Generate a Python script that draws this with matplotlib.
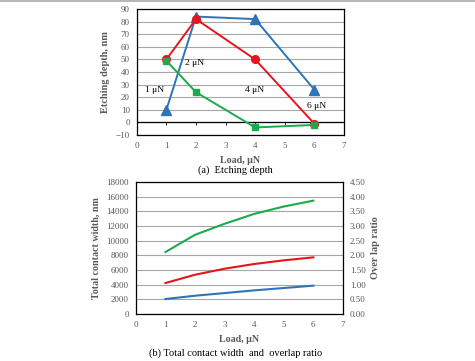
import matplotlib.pyplot as plt

plt.rcParams['font.family'] = ['Liberation Serif', 'DejaVu Serif']

# (a) etching depth
load_a = [1, 2, 4, 6]
depth_blue = [10, 84, 82, 26]
depth_red = [50, 82, 50, -1]
depth_green = [49, 24, -4, -2]
load_labels = ["1 \u03bcN", "2 \u03bcN", "4 \u03bcN", "6 \u03bcN"]
label_x = [0.6, 1.95, 3.97, 6.06]
label_y = [26, 47, 26, 13]

# (b) total contact width
load_b = [1, 2, 3, 4, 5, 6]
width_green = [8450, 10800, 12300, 13650, 14650, 15450]
width_red = [4230, 5360, 6180, 6820, 7320, 7730]
width_blue = [2050, 2500, 2860, 3230, 3550, 3870]

BLUE = '#2e75b6'
RED = '#e8141b'
GREEN = '#1daa4e'
GREYTXT = '#595959'
GRID = '#a6a6a6'

fig = plt.figure(figsize=(4.75, 3.61), dpi=100)
fig.add_artist(plt.Line2D([0, 1], [0.998, 0.998], color='#aaaaaa', lw=1.2))

# ---- top panel
ax1 = fig.add_axes([0.288, 0.626, 0.436, 0.349])
ax1.plot(load_a, depth_blue, color=BLUE, lw=1.4, marker='^', ms=6.5, zorder=3)
ax1.plot(load_a, depth_red, color=RED, lw=1.4, marker='o', ms=5.5, zorder=4)
ax1.plot(load_a, depth_green, color=GREEN, lw=1.4, marker='s', ms=5, zorder=5)
for tx, ty, s in zip(label_x, label_y, load_labels):
    ax1.text(tx, ty, s, fontsize=6.8, ha='center', va='center', zorder=6)
ax1.set_xlim(0, 7)
ax1.set_ylim(-10, 90)
ax1.set_yticks(range(-10, 91, 10))
ax1.set_xticks(range(0, 8))
ax1.yaxis.grid(True, color=GRID, lw=0.8)
ax1.set_axisbelow(True)
ax1.axhline(0, color='black', lw=0.9, zorder=2)
ax1.tick_params(length=0, labelsize=6.5, labelcolor=GREYTXT, pad=5)
sec = ax1.secondary_xaxis(0.1)
sec.set_xticks(range(0, 8))
sec.tick_params(length=2.5, direction='out', labelbottom=False, width=0.6)
sec.spines['bottom'].set_visible(False)
for sp in ax1.spines.values():
    sp.set_color('black')
    sp.set_linewidth(0.9)
ax1.set_xlabel("Load, \u03bcN", fontsize=7.2, fontweight='bold', color=GREYTXT, labelpad=4)
ax1.set_ylabel("Etching depth, nm", fontsize=7.5, fontweight='bold', color=GREYTXT, labelpad=4)
fig.text(0.495, 0.528, "(a)  Etching depth", ha='center', va='center', fontsize=7.5)

# ---- bottom panel
ax2 = fig.add_axes([0.286, 0.130, 0.436, 0.366])
ax2.plot(load_b, width_green, color=GREEN, lw=1.5)
ax2.plot(load_b, width_red, color=RED, lw=1.5)
ax2.plot(load_b, width_blue, color=BLUE, lw=1.5)
ax2.set_xlim(0, 7)
ax2.set_ylim(0, 18000)
ax2.set_yticks(range(0, 18001, 2000))
ax2.set_xticks(range(0, 8))
ax2.yaxis.grid(True, color=GRID, lw=0.8)
ax2.set_axisbelow(True)
ax2.tick_params(length=0, labelsize=6.5, labelcolor=GREYTXT, pad=5)
for sp in ax2.spines.values():
    sp.set_color('black')
    sp.set_linewidth(0.9)
ax2.set_xlabel("Load, \u03bcN", fontsize=7.2, fontweight='bold', color=GREYTXT, labelpad=4)
ax2.set_ylabel("Total contact width, nm", fontsize=7.2, fontweight='bold', color=GREYTXT, labelpad=4)

ax3 = ax2.twinx()
ax3.set_ylim(0, 4.5)
ax3.set_yticks([i * 0.5 for i in range(10)])
ax3.set_yticklabels([f"{i * 0.5:.2f}" for i in range(10)])
ax3.tick_params(length=0, labelsize=6.5, labelcolor=GREYTXT, pad=5)
ax3.set_ylabel("Over lap ratio", fontsize=7.5, fontweight='bold', color=GREYTXT, labelpad=4)
for sp in ax3.spines.values():
    sp.set_visible(False)
fig.text(0.495, 0.022, "(b) Total contact width  and  overlap ratio", ha='center', va='center', fontsize=7.5)

fig.savefig("out.png", dpi=100)
